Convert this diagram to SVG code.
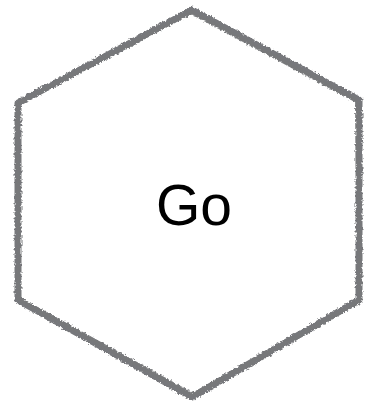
<svg xmlns="http://www.w3.org/2000/svg" width="367" height="407" viewBox="0 0 367 407">
  <style>
    .edge { fill: none; stroke: #77787b; stroke-linejoin: round; stroke-linecap: round; }
    .label { font-family: "Helvetica Neue", "Liberation Sans", Arial, sans-serif; font-size: 57px; fill: #000; text-anchor: middle; }
  </style>
  <defs>
    <filter id="rough" x="-5%" y="-5%" width="110%" height="110%">
      <feTurbulence type="fractalNoise" baseFrequency="0.45" numOctaves="2" seed="3" result="n"/>
      <feDisplacementMap in="SourceGraphic" in2="n" scale="4" xChannelSelector="R" yChannelSelector="G"/>
    </filter>
  </defs>
  <g id="node-go">
    <g filter="url(#rough)">
      <path class="edge" stroke-width="7" d="M192,10 L359,100 L359,300 L192,397 L18,300 L18,103 Z"/>
      <path class="edge" stroke-width="4" opacity="0.8" d="M191,12 L357,101 L360,301 L193,395 L19,299 L17,104 Z"/>
    </g>
    <text class="label" x="194" y="225">Go</text>
  </g>
</svg>
